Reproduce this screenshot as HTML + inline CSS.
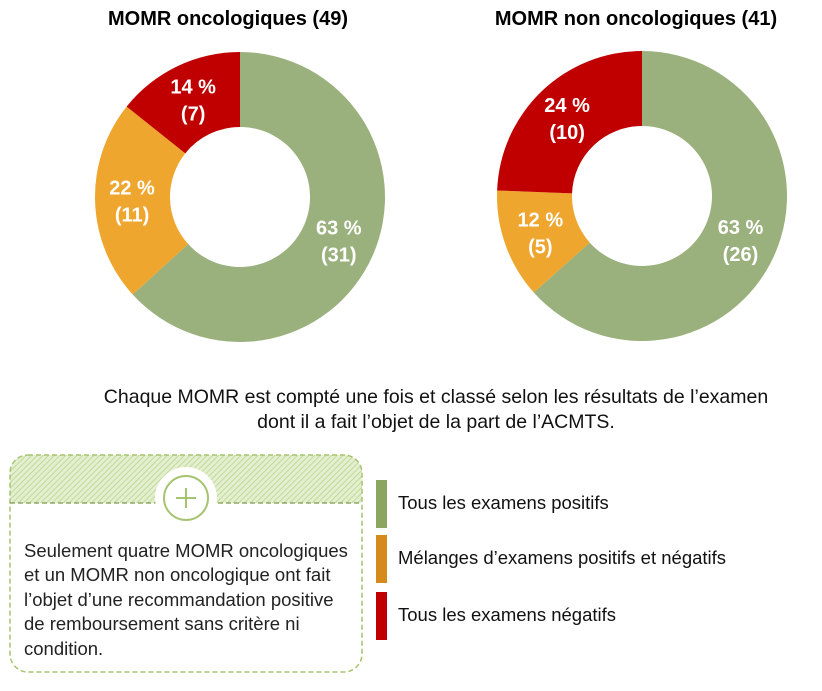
<!DOCTYPE html>
<html><head><meta charset="utf-8"><style>
html,body{margin:0;padding:0;background:#fff;}
body{width:822px;height:686px;overflow:hidden;font-family:"Liberation Sans",sans-serif;}
</style></head><body>
<svg id="chart" width="822" height="686" viewBox="0 0 822 686" xmlns="http://www.w3.org/2000/svg">
<defs>
<pattern id="hatch" width="4" height="4" patternUnits="userSpaceOnUse" patternTransform="rotate(45)">
<rect width="4" height="4" fill="#e4efcf"/><line x1="0" y1="0" x2="0" y2="4" stroke="#b9d48e" stroke-width="1.6"/>
</pattern>
<clipPath id="boxclip"><rect x="10" y="455" width="352" height="217" rx="18"/></clipPath>
</defs>
<text x="228" y="25" text-anchor="middle" font-size="20" font-weight="bold" fill="#000">MOMR oncologiques (49)</text>
<text x="636" y="25" text-anchor="middle" font-size="20" font-weight="bold" fill="#000">MOMR non oncologiques (41)</text>
<g id="donuts"></g>
<text x="436" y="403" text-anchor="middle" font-size="19.5" fill="#111">Chaque MOMR est compté une fois et classé selon les résultats de l’examen</text>
<text x="436" y="428" text-anchor="middle" font-size="19.5" fill="#111">dont il a fait l’objet de la part de l’ACMTS.</text>
<g>
<rect x="10" y="455" width="352" height="48" fill="url(#hatch)" clip-path="url(#boxclip)"/>
<rect x="10" y="455" width="352" height="217" rx="18" fill="none" stroke="#a6c46f" stroke-width="1.5" stroke-dasharray="5,3"/>
<line x1="10" y1="503" x2="362" y2="503" stroke="#7a9a4a" stroke-width="1.3" stroke-dasharray="5,3"/>
<circle cx="186" cy="498" r="31" fill="#fff"/>
<circle cx="186" cy="498" r="22" fill="none" stroke="#a6c46f" stroke-width="2"/>
<line x1="176" y1="498" x2="196" y2="498" stroke="#a6c46f" stroke-width="2"/>
<line x1="186" y1="488" x2="186" y2="508" stroke="#a6c46f" stroke-width="2"/>
<g font-size="18.5" fill="#222">
<text x="24" y="557">Seulement quatre MOMR oncologiques</text>
<text x="24" y="581">et un MOMR non oncologique ont fait</text>
<text x="24" y="606">l’objet d’une recommandation positive</text>
<text x="24" y="630">de remboursement sans critère ni</text>
<text x="24" y="655">condition.</text>
</g>
</g>
<g>
<rect x="376" y="480" width="11" height="48" fill="#8aa660"/>
<text x="398" y="509" font-size="18.5" fill="#111">Tous les examens positifs</text>
<rect x="376" y="535" width="11" height="48" fill="#d68a1c"/>
<text x="398" y="564" font-size="18.5" fill="#111">Mélanges d’examens positifs et négatifs</text>
<rect x="376" y="592" width="11" height="48" fill="#c00000"/>
<text x="398" y="621" font-size="18.5" fill="#111">Tous les examens négatifs</text>
</g>
</svg>
<script>
const categories = ["positifs", "mixtes", "negatifs"];
const oncoValues = [31, 11, 7];
const nonOncoValues = [26, 5, 10];
const oncoPercents = ["63 %", "22 %", "14 %"];
const nonOncoPercents = ["63 %", "12 %", "24 %"];
const colors = ["#9bb17d", "#eea62e", "#c00000"];
const NS = "http://www.w3.org/2000/svg";
const g = document.getElementById("donuts");
function pt(cx, cy, r, a) { return [cx + r * Math.sin(a), cy - r * Math.cos(a)]; }
function drawDonut(name, cx, cy, values, pcts) {
  const R = 145, r0 = 70, total = values.reduce((a, b) => a + b, 0);
  let acc = 0;
  values.forEach((v, i) => {
    const a0 = acc / total * 2 * Math.PI; acc += v;
    const a1 = acc / total * 2 * Math.PI;
    const large = (a1 - a0) > Math.PI ? 1 : 0;
    const p0 = pt(cx, cy, R, a0), p1 = pt(cx, cy, R, a1), q1 = pt(cx, cy, r0, a1), q0 = pt(cx, cy, r0, a0);
    const path = document.createElementNS(NS, "path");
    path.setAttribute("d", `M${p0[0]},${p0[1]} A${R},${R} 0 ${large} 1 ${p1[0]},${p1[1]} L${q1[0]},${q1[1]} A${r0},${r0} 0 ${large} 0 ${q0[0]},${q0[1]} Z`);
    path.setAttribute("fill", colors[i]);
    
    
    g.appendChild(path);
    const m = pt(cx, cy, 108, (a0 + a1) / 2);
    const t = document.createElementNS(NS, "text");
    t.setAttribute("x", m[0]); t.setAttribute("y", m[1] - 6);
    t.setAttribute("text-anchor", "middle"); t.setAttribute("font-size", "20");
    t.setAttribute("font-weight", "bold"); t.setAttribute("fill", "#fff");
    
    
    const s1 = document.createElementNS(NS, "tspan"); s1.setAttribute("x", m[0]); s1.textContent = pcts[i];
    const s2 = document.createElementNS(NS, "tspan"); s2.setAttribute("x", m[0]); s2.setAttribute("dy", "27"); s2.textContent = "(" + v + ")";
    t.appendChild(s1); t.appendChild(s2);
    g.appendChild(t);
  });
}
drawDonut("oncologiques", 240, 197, oncoValues, oncoPercents);
drawDonut("non-oncologiques", 642, 196, nonOncoValues, nonOncoPercents);
</script>
</body></html>
